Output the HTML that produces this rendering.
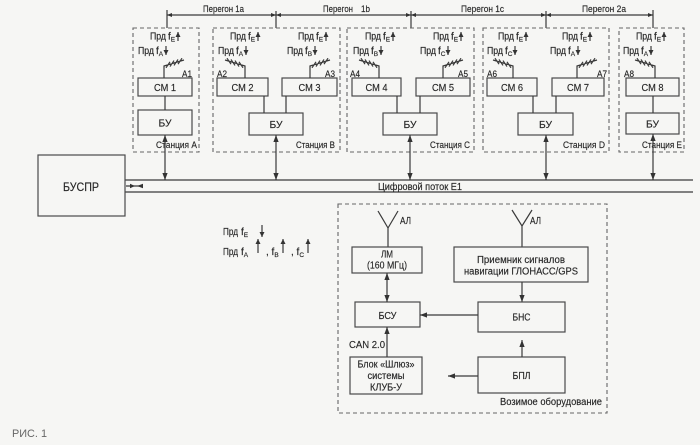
<!DOCTYPE html>
<html><head><meta charset="utf-8">
<style>
html,body{margin:0;padding:0;background:#f6f6f4;}
svg{display:block}
.b{fill:none;stroke:#4a4a4a;stroke-width:1.2}
.d{fill:none;stroke:#666;stroke-width:1.1;stroke-dasharray:4 3}
.l{fill:none;stroke:#3a3a3a;stroke-width:1.2}
text{font-family:"Liberation Sans",Arial,sans-serif;fill:#262626;stroke:#262626;stroke-width:0.15}
</style></head><body>
<svg width="700" height="445" viewBox="0 0 700 445" xmlns="http://www.w3.org/2000/svg">
<defs>
<marker id="a" viewBox="0 0 8 6" refX="8" refY="3" markerWidth="7" markerHeight="6" markerUnits="userSpaceOnUse" orient="auto-start-reverse"><path d="M0,0L8,3L0,6z" fill="#333"/></marker>
<marker id="s" viewBox="0 0 6 6" refX="6" refY="3" markerWidth="5" markerHeight="5" markerUnits="userSpaceOnUse" orient="auto-start-reverse"><path d="M0,0L6,3L0,6z" fill="#333"/></marker>
</defs>
<rect x="0" y="0" width="700" height="445" fill="#f6f6f4"/>

<!-- Peregon line -->
<path class="l" d="M167,15H653M167,10V28M653,10V28M276,11V28M411,11V28M546,11V28"/>
<path fill="#333" d="M167,15l5,-2v4zM276,15l-5,-2v4zM276,15l5,-2v4zM411,15l-5,-2v4zM411,15l5,-2v4zM546,15l-5,-2v4zM546,15l5,-2v4zM653,15l-5,-2v4z"/>
<text x="203" y="12" font-size="9.5" textLength="41" lengthAdjust="spacingAndGlyphs">Перегон 1a</text>
<text x="323" y="12" font-size="9.5" textLength="30" lengthAdjust="spacingAndGlyphs">Перегон</text>
<text x="361" y="12" font-size="9.5" textLength="9" lengthAdjust="spacingAndGlyphs">1b</text>
<text x="461" y="12" font-size="9.5" textLength="43" lengthAdjust="spacingAndGlyphs">Перегон 1c</text>
<text x="582" y="12" font-size="9.5" textLength="44" lengthAdjust="spacingAndGlyphs">Перегон 2a</text>

<!-- Station boxes -->
<rect class="d" x="133" y="28" width="66" height="124"/>
<rect class="d" x="213" y="28" width="127" height="124"/>
<rect class="d" x="347" y="28" width="127" height="124"/>
<rect class="d" x="483" y="28" width="126" height="124"/>
<rect class="d" x="619" y="28" width="65" height="124"/>

<!-- CM boxes -->
<rect class="b" x="138" y="78" width="54" height="18"/>
<rect class="b" x="217" y="78" width="51" height="18"/>
<rect class="b" x="282" y="78" width="55" height="18"/>
<rect class="b" x="352" y="78" width="49" height="18"/>
<rect class="b" x="416" y="78" width="54" height="18"/>
<rect class="b" x="487" y="78" width="50" height="18"/>
<rect class="b" x="552" y="78" width="52" height="18"/>
<rect class="b" x="626" y="78" width="53" height="18"/>
<g font-size="10.5" text-anchor="middle">
<text x="165" y="91" textLength="22" lengthAdjust="spacingAndGlyphs">СМ 1</text>
<text x="242.5" y="91" textLength="22" lengthAdjust="spacingAndGlyphs">СМ 2</text>
<text x="309.5" y="91" textLength="22" lengthAdjust="spacingAndGlyphs">СМ 3</text>
<text x="376.5" y="91" textLength="22" lengthAdjust="spacingAndGlyphs">СМ 4</text>
<text x="443" y="91" textLength="22" lengthAdjust="spacingAndGlyphs">СМ 5</text>
<text x="512" y="91" textLength="22" lengthAdjust="spacingAndGlyphs">СМ 6</text>
<text x="578" y="91" textLength="22" lengthAdjust="spacingAndGlyphs">СМ 7</text>
<text x="652.5" y="91" textLength="22" lengthAdjust="spacingAndGlyphs">СМ 8</text>
</g>

<!-- BU boxes -->
<rect class="b" x="138" y="110" width="54" height="25"/>
<rect class="b" x="249" y="113" width="54" height="22"/>
<rect class="b" x="383" y="113" width="54" height="22"/>
<rect class="b" x="518" y="113" width="55" height="22"/>
<rect class="b" x="626" y="113" width="53" height="21"/>
<g font-size="10.5" text-anchor="middle">
<text x="165" y="126.5" textLength="13" lengthAdjust="spacingAndGlyphs">БУ</text>
<text x="276" y="128" textLength="13" lengthAdjust="spacingAndGlyphs">БУ</text>
<text x="410" y="128" textLength="13" lengthAdjust="spacingAndGlyphs">БУ</text>
<text x="545.5" y="128" textLength="13" lengthAdjust="spacingAndGlyphs">БУ</text>
<text x="652.5" y="127.5" textLength="13" lengthAdjust="spacingAndGlyphs">БУ</text>
</g>

<!-- CM-BU links -->
<path class="l" d="M165,96V110M264,96V113M286,96V113M397,96V113M420,96V113M533,96V113M556,96V113M653,96V113"/>

<!-- Antennas -->
<path class="l" stroke-width="0.9" d="M164,78V66l20,-6M166,67.8l4,-6M170,66.6l4,-6M174,65.4l4,-6M178,64.2l4,-6
M310,78V66l20,-6M312,67.8l4,-6M316,66.6l4,-6M320,65.4l4,-6M324,64.2l4,-6
M443,78V66l20,-6M445,67.8l4,-6M449,66.6l4,-6M453,65.4l4,-6M457,64.2l4,-6
M577,78V66l20,-6M579,67.8l4,-6M583,66.6l4,-6M587,65.4l4,-6M591,64.2l4,-6
M245,78V66l-20,-6M243,67.8l-4,-6M239,66.6l-4,-6M235,65.4l-4,-6M231,64.2l-4,-6
M379,78V66l-20,-6M377,67.8l-4,-6M373,66.6l-4,-6M369,65.4l-4,-6M365,64.2l-4,-6
M513,78V66l-20,-6M511,67.8l-4,-6M507,66.6l-4,-6M503,65.4l-4,-6M499,64.2l-4,-6
M655,78V66l-20,-6M653,67.8l-4,-6M649,66.6l-4,-6M645,65.4l-4,-6M641,64.2l-4,-6"/>
<g font-size="9">
<text x="182" y="77" textLength="10" lengthAdjust="spacingAndGlyphs">A1</text>
<text x="217" y="77" textLength="10" lengthAdjust="spacingAndGlyphs">A2</text>
<text x="325" y="77" textLength="10" lengthAdjust="spacingAndGlyphs">A3</text>
<text x="350" y="77" textLength="10" lengthAdjust="spacingAndGlyphs">A4</text>
<text x="458" y="77" textLength="10" lengthAdjust="spacingAndGlyphs">A5</text>
<text x="487" y="77" textLength="10" lengthAdjust="spacingAndGlyphs">A6</text>
<text x="597" y="77" textLength="10" lengthAdjust="spacingAndGlyphs">A7</text>
<text x="624" y="77" textLength="10" lengthAdjust="spacingAndGlyphs">A8</text>
</g>

<!-- Prd rows -->
<g font-size="10">
<text x="150" y="39.5" textLength="16" lengthAdjust="spacingAndGlyphs">Прд</text><text x="168" y="39.5">f<tspan font-size="6.5" dy="2">E</tspan></text>
<text x="230" y="39.5" textLength="16" lengthAdjust="spacingAndGlyphs">Прд</text><text x="248" y="39.5">f<tspan font-size="6.5" dy="2">E</tspan></text>
<text x="298" y="39.5" textLength="16" lengthAdjust="spacingAndGlyphs">Прд</text><text x="316" y="39.5">f<tspan font-size="6.5" dy="2">E</tspan></text>
<text x="365" y="39.5" textLength="16" lengthAdjust="spacingAndGlyphs">Прд</text><text x="383" y="39.5">f<tspan font-size="6.5" dy="2">E</tspan></text>
<text x="433" y="39.5" textLength="16" lengthAdjust="spacingAndGlyphs">Прд</text><text x="451" y="39.5">f<tspan font-size="6.5" dy="2">E</tspan></text>
<text x="498" y="39.5" textLength="16" lengthAdjust="spacingAndGlyphs">Прд</text><text x="516" y="39.5">f<tspan font-size="6.5" dy="2">E</tspan></text>
<text x="562" y="39.5" textLength="16" lengthAdjust="spacingAndGlyphs">Прд</text><text x="580" y="39.5">f<tspan font-size="6.5" dy="2">E</tspan></text>
<text x="636" y="39.5" textLength="16" lengthAdjust="spacingAndGlyphs">Прд</text><text x="654" y="39.5">f<tspan font-size="6.5" dy="2">E</tspan></text>
<text x="138" y="54" textLength="16" lengthAdjust="spacingAndGlyphs">Прд</text><text x="156" y="54">f<tspan font-size="6.5" dy="2">A</tspan></text>
<text x="218" y="54" textLength="16" lengthAdjust="spacingAndGlyphs">Прд</text><text x="236" y="54">f<tspan font-size="6.5" dy="2">A</tspan></text>
<text x="287" y="54" textLength="16" lengthAdjust="spacingAndGlyphs">Прд</text><text x="305" y="54">f<tspan font-size="6.5" dy="2">B</tspan></text>
<text x="353" y="54" textLength="16" lengthAdjust="spacingAndGlyphs">Прд</text><text x="371" y="54">f<tspan font-size="6.5" dy="2">B</tspan></text>
<text x="420" y="54" textLength="16" lengthAdjust="spacingAndGlyphs">Прд</text><text x="438" y="54">f<tspan font-size="6.5" dy="2">C</tspan></text>
<text x="487" y="54" textLength="16" lengthAdjust="spacingAndGlyphs">Прд</text><text x="505" y="54">f<tspan font-size="6.5" dy="2">C</tspan></text>
<text x="550" y="54" textLength="16" lengthAdjust="spacingAndGlyphs">Прд</text><text x="568" y="54">f<tspan font-size="6.5" dy="2">A</tspan></text>
<text x="623" y="54" textLength="16" lengthAdjust="spacingAndGlyphs">Прд</text><text x="641" y="54">f<tspan font-size="6.5" dy="2">A</tspan></text>
</g>
<g class="l" stroke-width="1.3" marker-end="url(#s)">
<path d="M178,41V32"/><path d="M258,41V32"/><path d="M326,41V32"/><path d="M393,41V32"/>
<path d="M461,41V32"/><path d="M526,41V32"/><path d="M590,41V32"/><path d="M664,41V32"/>
<path d="M166,46V55"/><path d="M246,46V55"/><path d="M315,46V55"/><path d="M381,46V55"/>
<path d="M448,46V55"/><path d="M515,46V55"/><path d="M578,46V55"/><path d="M651,46V55"/>
</g>

<!-- Station labels -->
<g font-size="9.5">
<text x="156" y="148" textLength="41" lengthAdjust="spacingAndGlyphs">Станция A</text>
<text x="296" y="148" textLength="39" lengthAdjust="spacingAndGlyphs">Станция B</text>
<text x="430" y="148" textLength="40" lengthAdjust="spacingAndGlyphs">Станция C</text>
<text x="563" y="148" textLength="42" lengthAdjust="spacingAndGlyphs">Станция D</text>
<text x="642" y="148" textLength="40" lengthAdjust="spacingAndGlyphs">Станция E</text>
</g>

<!-- BU to bus arrows -->
<g class="l" marker-start="url(#a)" marker-end="url(#a)">
<path d="M165,135V180"/><path d="M276,135V180"/><path d="M410,135V180"/><path d="M546,135V180"/><path d="M653,134V180"/>
</g>

<!-- Bus -->
<path class="l" d="M125,180H693M125,192H693M126,186H143"/>
<path fill="#333" d="M135,186l-5,-2.2v4.4zM137,186l6,-2.2v4.4z"/>
<text x="378" y="190" font-size="10" textLength="84" lengthAdjust="spacingAndGlyphs">Цифровой поток E1</text>

<!-- BUSPR -->
<rect class="b" x="38" y="155" width="87" height="61"/>
<text x="81" y="191" font-size="12" text-anchor="middle" textLength="36" lengthAdjust="spacingAndGlyphs">БУСПР</text>

<!-- Legend -->
<g font-size="10">
<text x="223" y="235" textLength="15" lengthAdjust="spacingAndGlyphs">Прд</text><text x="241" y="235">f<tspan font-size="6.5" dy="2">E</tspan></text>
<text x="223" y="255" textLength="15" lengthAdjust="spacingAndGlyphs">Прд</text><text x="241" y="255">f<tspan font-size="6.5" dy="2">A</tspan></text>
<text x="266" y="255">, f<tspan font-size="6.5" dy="2">B</tspan></text>
<text x="291" y="255">, f<tspan font-size="6.5" dy="2">C</tspan></text>
</g>
<g class="l" stroke-width="1.1" marker-end="url(#s)">
<path d="M262,225V237"/><path d="M258,253V239"/><path d="M283,253V239"/><path d="M308,253V239"/>
</g>

<!-- Onboard equipment -->
<rect class="d" x="338" y="204" width="269" height="209"/>
<text x="500" y="405" font-size="10" textLength="102" lengthAdjust="spacingAndGlyphs">Возимое оборудование</text>

<!-- antennas AL -->
<path class="l" d="M388,247V228M378,211L388,228L398,211"/>
<text x="400" y="224" font-size="10" textLength="11" lengthAdjust="spacingAndGlyphs">АЛ</text>
<path class="l" d="M522,247V226M512,210L522,226L532,210"/>
<text x="530" y="224" font-size="10" textLength="11" lengthAdjust="spacingAndGlyphs">АЛ</text>

<!-- LM -->
<rect class="b" x="352" y="247" width="70" height="26"/>
<text x="387" y="257.5" font-size="10" text-anchor="middle" textLength="12" lengthAdjust="spacingAndGlyphs">ЛМ</text>
<text x="387" y="268.5" font-size="10" text-anchor="middle" textLength="40" lengthAdjust="spacingAndGlyphs">(160 МГц)</text>

<!-- BSU -->
<rect class="b" x="355" y="302" width="65" height="25"/>
<text x="387.5" y="319" font-size="10" text-anchor="middle" textLength="18" lengthAdjust="spacingAndGlyphs">БСУ</text>
<path class="l" d="M387,273V302" marker-start="url(#a)" marker-end="url(#a)"/>

<!-- Receiver -->
<rect class="b" x="454" y="247" width="134" height="35"/>
<text x="521" y="263" font-size="10" text-anchor="middle" textLength="88" lengthAdjust="spacingAndGlyphs">Приемник сигналов</text>
<text x="521" y="274.5" font-size="10" text-anchor="middle" textLength="114" lengthAdjust="spacingAndGlyphs">навигации ГЛОНАСС/GPS</text>
<path class="l" d="M522,282V302" marker-end="url(#a)"/>

<!-- BNS -->
<rect class="b" x="478" y="302" width="87" height="30"/>
<text x="521.5" y="320.5" font-size="10" text-anchor="middle" textLength="18" lengthAdjust="spacingAndGlyphs">БНС</text>
<path class="l" d="M478,315H420" marker-end="url(#a)"/>

<!-- BPL -->
<rect class="b" x="478" y="357" width="87" height="36"/>
<text x="521.5" y="379" font-size="10" text-anchor="middle" textLength="18" lengthAdjust="spacingAndGlyphs">БПЛ</text>
<path class="l" d="M522,357V340" marker-end="url(#a)"/>
<path class="l" d="M478,376H448" marker-end="url(#a)"/>

<!-- Gateway -->
<rect class="b" x="350" y="357" width="72" height="37"/>
<text x="386" y="367.5" font-size="10" text-anchor="middle" textLength="57" lengthAdjust="spacingAndGlyphs">Блок «Шлюз»</text>
<text x="386" y="379" font-size="10" text-anchor="middle" textLength="37" lengthAdjust="spacingAndGlyphs">системы</text>
<text x="386" y="390.5" font-size="10" text-anchor="middle" textLength="32" lengthAdjust="spacingAndGlyphs">КЛУБ-У</text>
<path class="l" d="M387,357V327" marker-end="url(#a)"/>
<text x="349" y="348" font-size="10" textLength="36" lengthAdjust="spacingAndGlyphs">CAN 2.0</text>

<!-- Caption -->
<text x="12" y="437" font-size="11" style="fill:#666;stroke:none" textLength="35" lengthAdjust="spacingAndGlyphs">РИС. 1</text>
</svg>
</body></html>
